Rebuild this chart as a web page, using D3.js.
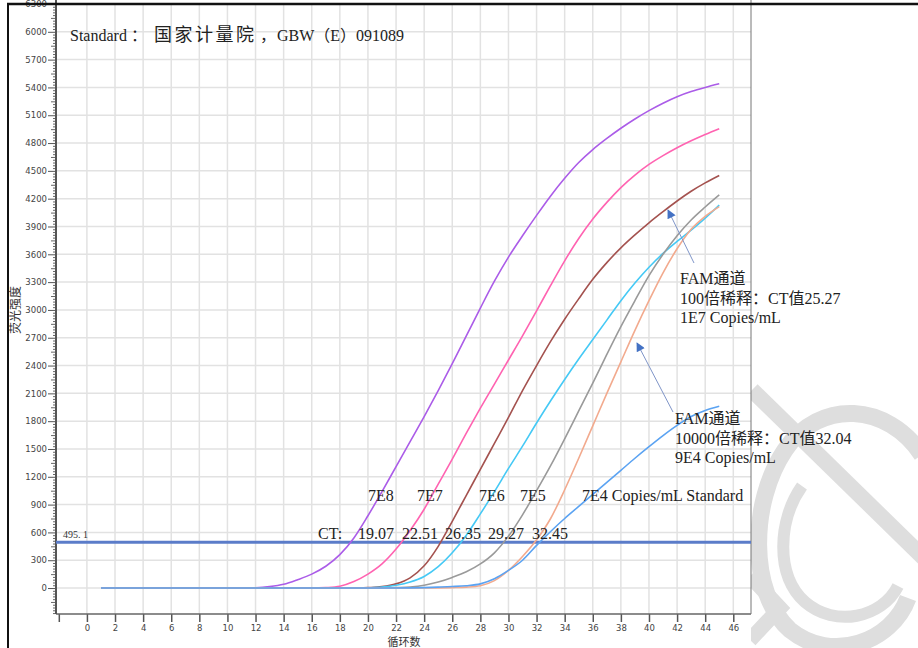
<!DOCTYPE html>
<html>
<head>
<meta charset="utf-8">
<script src="https://cdn.jsdelivr.net/npm/d3@7"></script>
<style>
  body { margin: 0; background: #fff; }
  svg { display: block; }
</style>
</head>
<body>
<svg id="chart" width="918" height="648"></svg>
<script>
// cycles of the run
const cycles = [1, 2, 3, 4, 5, 6, 7, 8, 9, 10, 11, 12, 13, 14, 15, 16, 17, 18, 19, 20,
  21, 22, 23, 24, 25, 26, 27, 28, 29, 30, 31, 32, 33, 34, 35, 36, 37, 38, 39, 40,
  41, 42, 43, 44, 45];

// fluorescence, one value per cycle
const std7E8 = [0, 0, 0, 0, 0, 0, 0, 0, 0, 0, 0, 3, 15, 40, 90, 150, 235, 360, 540, 780,
  1040, 1310, 1580, 1850, 2130, 2420, 2720, 3020, 3310, 3570, 3800, 4020, 4230, 4420, 4590, 4730, 4850, 4960, 5060, 5150,
  5230, 5300, 5355, 5400, 5440];
const std7E7 = [0, 0, 0, 0, 0, 0, 0, 0, 0, 0, 0, 0, 0, 0, 0, 0, 5, 20, 70, 150,
  260, 420, 620, 850, 1120, 1390, 1670, 1940, 2200, 2460, 2720, 2990, 3265, 3530, 3770, 3980, 4160, 4320, 4455, 4570,
  4665, 4750, 4825, 4893, 4955];
const std7E6 = [0, 0, 0, 0, 0, 0, 0, 0, 0, 0, 0, 0, 0, 0, 0, 0, 0, 0, 0, 5,
  15, 45, 110, 240, 450, 720, 1000, 1280, 1560, 1840, 2130, 2400, 2660, 2900, 3120, 3330, 3510, 3670, 3810, 3940,
  4060, 4175, 4280, 4370, 4450];
const sample1E7 = [0, 0, 0, 0, 0, 0, 0, 0, 0, 0, 0, 0, 0, 0, 0, 0, 0, 0, 0, 3,
  10, 30, 65, 125, 230, 380, 570, 800, 1040, 1290, 1530, 1780, 2020, 2250, 2470, 2680, 2890, 3100, 3290, 3460,
  3610, 3740, 3860, 3990, 4130];
const std7E5 = [0, 0, 0, 0, 0, 0, 0, 0, 0, 0, 0, 0, 0, 0, 0, 0, 0, 0, 0, 0,
  0, 5, 12, 30, 65, 115, 175, 260, 380, 560, 790, 1050, 1320, 1610, 1910, 2210, 2520, 2820, 3100, 3370,
  3600, 3800, 3970, 4110, 4240];
const std7E4 = [0, 0, 0, 0, 0, 0, 0, 0, 0, 0, 0, 0, 0, 0, 0, 0, 0, 0, 0, 0,
  0, 0, 0, 1, 2, 5, 10, 25, 80, 190, 340, 520, 750, 1060, 1400, 1750, 2100, 2440, 2780, 3100,
  3400, 3660, 3870, 4010, 4115];
const sample9E4 = [0, 0, 0, 0, 0, 0, 0, 0, 0, 0, 0, 0, 0, 0, 0, 0, 0, 0, 0, 0,
  0, 0, 2, 5, 10, 16, 25, 45, 100, 190, 300, 460, 610, 750, 880, 1010, 1140, 1270, 1400, 1525,
  1645, 1755, 1850, 1915, 1960];

const seriesValues = [std7E8, std7E7, std7E6, sample1E7, std7E5, std7E4, sample9E4];
const seriesColors = ["#ab5ce8", "#ff63b1", "#a4524f", "#45c9f5", "#9a9a9a", "#f2aa8e", "#5ba3f2"];

const threshold = 495.1;
const thresholdLabel = "495. 1";

const yTickValues = [0, 300, 600, 900, 1200, 1500, 1800, 2100, 2400, 2700, 3000, 3300, 3600,
  3900, 4200, 4500, 4800, 5100, 5400, 5700, 6000, 6300];
const xTickValues = [-2, 0, 2, 4, 6, 8, 10, 12, 14, 16, 18, 20, 22, 24, 26, 28, 30, 32, 34,
  36, 38, 40, 42, 44, 46];

const titleParts = ["Standard", "：", "国家计量院", "，", "GBW（E）091089"];
const xTitle = "循环数";
const yTitle = "荧光强度";
const concLabels = ["7E8", "7E7", "7E6", "7E5", "7E4 Copies/mL Standard"];
const ctLabels = ["CT:", "19.07", "22.51", "26.35", "29.27", "32.45"];
const note1 = ["FAM通道", "100倍稀释：CT值25.27", "1E7 Copies/mL"];
const note2 = ["FAM通道", "10000倍稀释：CT值32.04", "9E4 Copies/mL"];

const svg = d3.select("#chart");
const W = 918, H = 648;
const plot = { left: 56, right: 751, top: 4, bottom: 614 };
const serif = "'Liberation Serif', 'Times New Roman', 'Noto Sans CJK SC', serif";
const sans = "'DejaVu Sans', Verdana, sans-serif";

// watermark behind the chart
const wm = svg.append("g")
  .attr("fill", "none")
  .attr("stroke", "#dedede")
  .attr("stroke-linecap", "butt");
wm.append("path").attr("d", "M752,390 L928,562").attr("stroke-width", 16);
wm.append("path")
  .attr("d", "M922,455 C888,403 820,398 785,450 C750,502 748,592 790,630 C832,664 892,642 908,598")
  .attr("stroke-width", 17);
wm.append("path")
  .attr("d", "M802,486 C778,520 775,575 805,602 C835,628 882,618 898,586")
  .attr("stroke-width", 12);
wm.append("path").attr("d", "M750,576 L780,608 L750,640").attr("stroke-width", 15);

// white chart panel
svg.append("rect")
  .attr("x", 0).attr("y", 0)
  .attr("width", plot.right).attr("height", H)
  .attr("fill", "#fff");

const x = d3.scaleLinear().domain([-2.2, 47.26]).range([plot.left, plot.right]);
const y = d3.scaleLinear().domain([-280, 6300]).range([plot.bottom, plot.top]);

// grid
svg.append("g").selectAll("line")
  .data(xTickValues.filter(d => d >= 0))
  .join("line")
  .attr("x1", d => x(d)).attr("x2", d => x(d))
  .attr("y1", plot.top).attr("y2", plot.bottom)
  .attr("stroke", "#e2e2e2").attr("stroke-width", 1.5);
svg.append("g").selectAll("line")
  .data(yTickValues)
  .join("line")
  .attr("x1", plot.left).attr("x2", plot.right)
  .attr("y1", d => y(d)).attr("y2", d => y(d))
  .attr("stroke", "#e2e2e2").attr("stroke-width", 1.5);

// y axis: minor ticks, then labelled ticks
const minorY = d3.range(-270, 6300, 30);
svg.append("g")
  .attr("transform", `translate(${plot.left},0)`)
  .call(d3.axisLeft(y).tickValues(minorY.filter(d => d % 150 !== 0)).tickSize(3).tickFormat(""))
  .call(g => g.select(".domain").remove())
  .selectAll("line").attr("stroke", "#666");
svg.append("g")
  .attr("transform", `translate(${plot.left},0)`)
  .call(d3.axisLeft(y).tickValues(minorY.filter(d => d % 150 === 0 && d % 300 !== 0)).tickSize(5).tickFormat(""))
  .call(g => g.select(".domain").remove())
  .selectAll("line").attr("stroke", "#666");
const yAxis = svg.append("g")
  .attr("transform", `translate(${plot.left},0)`)
  .call(d3.axisLeft(y).tickValues(yTickValues).tickSize(8).tickPadding(1).tickFormat(d3.format("d")));
yAxis.select(".domain").remove();
yAxis.selectAll("line").attr("stroke", "#555");
yAxis.selectAll("text")
  .attr("font-family", sans).attr("font-size", 8.5).attr("fill", "#444");

// x axis
const xAxis = svg.append("g")
  .attr("transform", `translate(0,${plot.bottom})`)
  .call(d3.axisBottom(x).tickValues(xTickValues).tickSize(8).tickPadding(3)
    .tickFormat(d => d < 0 ? "" : d));
xAxis.select(".domain").remove();
xAxis.selectAll("line").attr("stroke", "#555").attr("stroke-width", 1.5);
xAxis.selectAll("text")
  .attr("font-family", sans).attr("font-size", 8.5).attr("fill", "#444");

// axis lines and right border
svg.append("line")
  .attr("x1", plot.left).attr("x2", plot.right)
  .attr("y1", plot.bottom).attr("y2", plot.bottom)
  .attr("stroke", "#666").attr("stroke-width", 1.5);
svg.append("line")
  .attr("x1", plot.left).attr("x2", plot.left)
  .attr("y1", 0).attr("y2", plot.bottom)
  .attr("stroke", "#555").attr("stroke-width", 2);
svg.append("line")
  .attr("x1", plot.right).attr("x2", plot.right)
  .attr("y1", 0).attr("y2", plot.bottom)
  .attr("stroke", "#777").attr("stroke-width", 1);

// axis titles
svg.append("text")
  .attr("x", 404).attr("y", 645.5)
  .attr("text-anchor", "middle")
  .attr("font-family", "'Noto Sans CJK SC', sans-serif").attr("font-size", 11).attr("fill", "#333")
  .text(xTitle);
svg.append("text")
  .attr("transform", "translate(20,310) rotate(-90)")
  .attr("text-anchor", "middle")
  .attr("font-family", "'Noto Sans CJK SC', sans-serif").attr("font-size", 12).attr("fill", "#333")
  .text(yTitle);

// threshold
svg.append("line")
  .attr("x1", plot.left).attr("x2", plot.right)
  .attr("y1", y(threshold)).attr("y2", y(threshold))
  .attr("stroke", "#5b7cc9").attr("stroke-width", 3);
svg.append("text")
  .attr("x", 63).attr("y", y(threshold) - 4)
  .attr("font-family", serif).attr("font-size", 10).attr("fill", "#333")
  .text(thresholdLabel);

// amplification curves
const line = d3.line()
  .x((d, i) => x(cycles[i]))
  .y(d => y(d))
  .curve(d3.curveMonotoneX);
svg.append("g").selectAll("path")
  .data(seriesValues)
  .join("path")
  .attr("d", d => line(d))
  .attr("fill", "none")
  .attr("stroke", (d, i) => seriesColors[i])
  .attr("stroke-width", 1.6);

// texts
const textStyle = sel => sel.attr("font-family", serif).attr("font-size", 16).attr("fill", "#222");

const titleX = [70, 131, 154, 260, 277];
const title = svg.append("text").attr("y", 41).call(textStyle);
title.selectAll("tspan")
  .data(titleParts).join("tspan")
  .attr("x", (d, i) => titleX[i])
  .attr("font-size", (d, i) => i === 2 ? 18 : 16)
  .attr("letter-spacing", (d, i) => i === 2 ? 2.5 : 0)
  .text(d => d);

const concX = [368, 417, 479, 520, 582];
svg.append("g").selectAll("text")
  .data(concLabels).join("text")
  .attr("x", (d, i) => concX[i]).attr("y", 500.5)
  .call(textStyle).text(d => d);

const ctX = [318, 358, 402, 445, 488, 532];
svg.append("g").selectAll("text")
  .data(ctLabels).join("text")
  .attr("x", (d, i) => ctX[i]).attr("y", 538.5)
  .call(textStyle).text(d => d);

svg.append("g").selectAll("text")
  .data(note1).join("text")
  .attr("x", 680).attr("y", (d, i) => 284 + i * 19.5)
  .call(textStyle).text(d => d);
svg.append("g").selectAll("text")
  .data(note2).join("text")
  .attr("x", 675).attr("y", (d, i) => 424 + i * 19.5)
  .call(textStyle).text(d => d);

// arrows
svg.append("defs").append("marker")
  .attr("id", "head")
  .attr("viewBox", "0 0 10 10")
  .attr("refX", 9).attr("refY", 5)
  .attr("markerWidth", 10).attr("markerHeight", 9)
  .attr("markerUnits", "userSpaceOnUse")
  .attr("orient", "auto")
  .append("path")
  .attr("d", "M0,0 L10,5 L0,10 Z")
  .attr("fill", "#4472c4");
const arrows = [[694, 263, 668, 210], [673, 412, 637, 343]];
svg.append("g").selectAll("line")
  .data(arrows).join("line")
  .attr("x1", d => d[0]).attr("y1", d => d[1])
  .attr("x2", d => d[2]).attr("y2", d => d[3])
  .attr("stroke", "#7f95c8").attr("stroke-width", 1)
  .attr("marker-end", "url(#head)");

// outer frame
svg.append("line")
  .attr("x1", 7).attr("x2", W).attr("y1", 4).attr("y2", 4)
  .attr("stroke", "#111").attr("stroke-width", 2.5);
svg.append("line")
  .attr("x1", 8).attr("x2", 8).attr("y1", 3).attr("y2", H)
  .attr("stroke", "#111").attr("stroke-width", 2);
</script>
</body>
</html>
